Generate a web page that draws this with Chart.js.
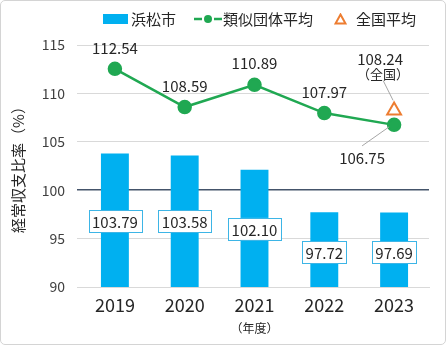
<!DOCTYPE html>
<html>
<head>
<meta charset="utf-8">
<script src="https://cdn.jsdelivr.net/npm/chart.js@4.4.1/dist/chart.umd.min.js"></script>
<style>
  html, body { margin: 0; padding: 0; background: #fff; }
  #wrap { position: relative; width: 446px; height: 345px; font-family: "Noto Sans CJK JP", sans-serif; }
  #frame { position: absolute; left: 0; top: 0; width: 444px; height: 343px; border: 1px solid #D4D4D4; border-radius: 5px; pointer-events: none; }
  #legend { position: absolute; top: 9px; left: 103px; display: flex; align-items: center; font-size: 15px; color: #262626; line-height: 20px; }
  #legend .box { width: 25px; height: 10px; background: #00B0F0; margin-right: 3px; }
  #legend .txt { white-space: nowrap; }
  #legend svg { display: block; }
</style>
</head>
<body>
<div id="wrap">
  <canvas id="chart" width="446" height="345"></canvas>
  <div id="legend">
    <span class="box"></span><span class="txt">浜松市</span>
    <svg width="28" height="12" style="margin-left:18px;margin-right:1px">
      <line x1="0" y1="6" x2="8" y2="6" stroke="#20A852" stroke-width="2.5"/>
      <line x1="20" y1="6" x2="28" y2="6" stroke="#20A852" stroke-width="2.5"/>
      <circle cx="14" cy="6" r="4" fill="#20A852"/>
    </svg><span class="txt">類似団体平均</span>
    <svg width="13" height="12" style="margin-left:21px;margin-right:9px">
      <polygon points="6.5,1.5 11.5,10.5 1.5,10.5" fill="#fff" stroke="#ED7D31" stroke-width="2"/>
    </svg><span class="txt">全国平均</span>
  </div>
  <div id="frame"></div>
</div>
<script>
const years = ['2019', '2020', '2021', '2022', '2023'];
const hamamatsu = [103.79, 103.58, 102.10, 97.72, 97.69];
const similarAvg = [112.54, 108.59, 110.89, 107.97, 106.75];
const nationalAvg = [null, null, null, null, 108.24];

const FONT = '"Noto Sans CJK JP", sans-serif';
const TEXT = '#262626';

// where the boxed bar labels sit (value units on the y axis)
const barLabelAt = [96.8, 96.8, 96.0, 93.6, 93.6];

const labelPlugin = {
    id: 'valueLabels',
    afterDatasetsDraw(chart) {
        const ctx = chart.ctx;
        const yScale = chart.scales.y;
        const bars = chart.getDatasetMeta(0).data;
        const pts = chart.getDatasetMeta(1).data;
        const tri = chart.getDatasetMeta(2).data[4];
        ctx.save();
        ctx.textAlign = 'center';
        ctx.textBaseline = 'middle';
        ctx.font = '15px ' + FONT;

        // boxed labels for 浜松市
        bars.forEach((bar, i) => {
            const txt = hamamatsu[i].toFixed(2);
            const cy = yScale.getPixelForValue(barLabelAt[i]);
            const w = ctx.measureText(txt).width + 7;
            const h = 22;
            ctx.fillStyle = '#fff';
            ctx.fillRect(bar.x - w / 2, cy - h / 2, w, h);
            ctx.strokeStyle = '#3DB5E6';
            ctx.lineWidth = 1;
            ctx.strokeRect(Math.round(bar.x - w / 2) + 0.5, Math.round(cy - h / 2) + 0.5, Math.round(w), h);
            ctx.fillStyle = TEXT;
            ctx.fillText(txt, bar.x, cy + 1);
        });

        // labels for 類似団体平均
        ctx.fillStyle = TEXT;
        pts.forEach((p, i) => {
            const txt = similarAvg[i].toFixed(2);
            if (i < 4) {
                ctx.fillText(txt, p.x, p.y - 21);
            } else {
                ctx.fillText(txt, p.x - 32, p.y + 33);
                ctx.strokeStyle = '#A6A6A6';
                ctx.lineWidth = 1;
                ctx.beginPath();
                ctx.moveTo(p.x - 5, p.y + 2);
                ctx.lineTo(p.x - 32, p.y + 21);
                ctx.stroke();
            }
        });

        // 全国平均 label
        ctx.fillStyle = TEXT;
        ctx.fillText(nationalAvg[4].toFixed(2), tri.x - 14, tri.y - 51);
        ctx.font = '13px ' + FONT;
        ctx.fillText('（全国）', tri.x - 11, tri.y - 36);
        ctx.strokeStyle = '#A6A6A6';
        ctx.beginPath();
        ctx.moveTo(tri.x - 11, tri.y - 30);
        ctx.lineTo(tri.x - 1, tri.y - 10);
        ctx.stroke();
        ctx.restore();
    }
};

new Chart(document.getElementById('chart'), {
    data: {
        labels: years,
        datasets: [
            {
                type: 'bar',
                label: '浜松市',
                data: hamamatsu,
                backgroundColor: '#00B0F0',
                categoryPercentage: 1,
                barPercentage: 0.4,
                order: 3
            },
            {
                type: 'line',
                label: '類似団体平均',
                data: similarAvg,
                borderColor: '#20A852',
                backgroundColor: '#20A852',
                borderWidth: 2.5,
                pointRadius: 6,
                pointHoverRadius: 6,
                order: 2
            },
            {
                type: 'line',
                label: '全国平均',
                data: nationalAvg,
                showLine: false,
                pointStyle: 'triangle',
                pointRadius: 8,
                pointBorderWidth: 2,
                borderColor: '#ED7D31',
                backgroundColor: '#fff',
                order: 1
            }
        ]
    },
    options: {
        responsive: false,
        animation: false,
        layout: { padding: { top: 45, left: 0, right: 17, bottom: 0 } },
        plugins: {
            legend: { display: false },
            tooltip: { enabled: false }
        },
        scales: {
            x: {
                grid: { display: false, drawTicks: false },
                border: { color: '#D9D9D9' },
                ticks: { color: TEXT, font: { family: FONT, size: 18 }, padding: 7 },
                title: { display: true, text: '（年度）', color: TEXT, font: { family: FONT, size: 12 }, padding: { top: 0, bottom: 9 } },
                afterFit: (s) => { s.height = 58; }
            },
            y: {
                min: 90,
                max: 115,
                border: { display: false },
                grid: {
                    color: (c) => c.tick.value === 100 ? '#44546A' : '#D9D9D9',
                    lineWidth: (c) => c.tick.value === 100 ? 1.5 : 1,
                    tickLength: 3
                },
                ticks: { stepSize: 5, color: '#404040', font: { family: FONT, size: 14 }, padding: 12 },
                title: { display: true, text: '経常収支比率（%）', color: TEXT, font: { family: FONT, size: 15 }, padding: { top: 9, bottom: 0 } },
                afterFit: (s) => { s.width = 80; }
            }
        }
    },
    plugins: [labelPlugin]
});
</script>
</body>
</html>
